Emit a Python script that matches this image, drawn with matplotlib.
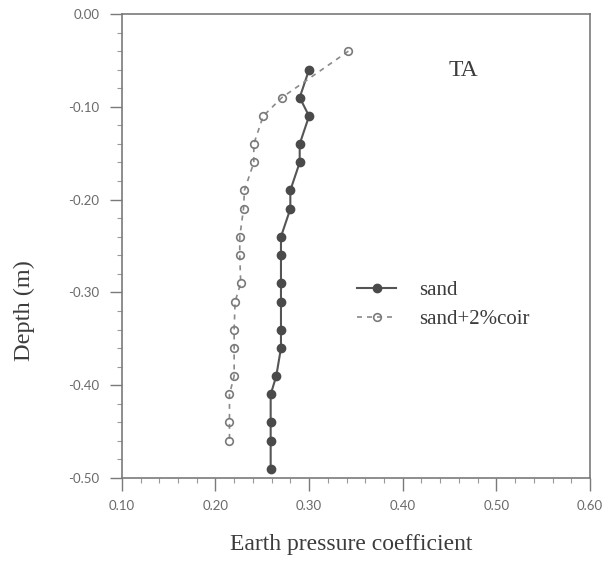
import matplotlib
matplotlib.use("Agg")
import matplotlib.pyplot as plt
from matplotlib.ticker import MultipleLocator, FormatStrFormatter

# data
sand_k = [0.300, 0.290, 0.300, 0.290, 0.290, 0.280, 0.280, 0.270, 0.270,
          0.270, 0.270, 0.270, 0.270, 0.265, 0.259, 0.259, 0.259, 0.259]
sand_depth = [-0.06, -0.09, -0.11, -0.14, -0.16, -0.19, -0.21, -0.24, -0.26,
              -0.29, -0.31, -0.34, -0.36, -0.39, -0.41, -0.44, -0.46, -0.49]

coir_k = [0.342, 0.271, 0.251, 0.241, 0.241, 0.231, 0.230, 0.226, 0.226,
          0.227, 0.221, 0.220, 0.220, 0.220, 0.215, 0.215, 0.215]
coir_depth = [-0.04, -0.09, -0.11, -0.14, -0.16, -0.19, -0.21, -0.24, -0.26,
              -0.29, -0.31, -0.34, -0.36, -0.39, -0.41, -0.44, -0.46]

plt.rcParams['axes.unicode_minus'] = False
serif = 'Liberation Serif'
tick_col = '#6a6a6a'
spine_col = '#7a7a7a'
text_col = '#3c3c3c'

fig = plt.figure(figsize=(6.12, 5.61), dpi=100)
ax = fig.add_axes([0.199, 0.148, 0.765, 0.827])

ax.plot(sand_k, sand_depth, '-', color='#555555', lw=1.5,
        marker='o', ms=6, mfc='#4a4a4a', mec='#4a4a4a', label='sand')
ax.plot(coir_k, coir_depth, '--', color='#8a8a8a', lw=1.2, dashes=(3, 3),
        marker='o', ms=5.5, mfc='none', mec='#7a7a7a', mew=1.2,
        label='sand+2%coir')

ax.set_xlim(0.10, 0.60)
ax.set_ylim(-0.50, 0.00)
ax.xaxis.set_major_locator(MultipleLocator(0.1))
ax.xaxis.set_minor_locator(MultipleLocator(0.02))
ax.yaxis.set_major_locator(MultipleLocator(0.1))
ax.yaxis.set_minor_locator(MultipleLocator(0.02))
ax.xaxis.set_major_formatter(FormatStrFormatter('%.2f'))
ax.yaxis.set_major_formatter(FormatStrFormatter('%.2f'))

ax.tick_params(which='major', direction='out', length=9, width=1.0,
               color=spine_col, labelcolor=tick_col, labelsize=9.5, pad=7)
ax.tick_params(which='minor', direction='out', length=3.5, width=0.8,
               color='#999999')
for lab in ax.get_xticklabels() + ax.get_yticklabels():
    lab.set_family('Lato')

for side in ['top', 'right', 'left', 'bottom']:
    ax.spines[side].set_color(spine_col)
    ax.spines[side].set_linewidth(1.2)

ax.set_xlabel('Earth pressure coefficient', family=serif, fontsize=17,
              color=text_col)
ax.set_ylabel('Depth (m)', family=serif, fontsize=17.5, color=text_col)
ax.xaxis.label.set_va('center')
ax.xaxis.set_label_coords(0.49, -0.144)
ax.yaxis.label.set_va('center')
ax.yaxis.set_label_coords(-0.207, 0.36)

ax.text(0.729, 0.879, 'TA', transform=ax.transAxes, ha='center', va='center',
        family=serif, fontsize=17, color=text_col)

leg = ax.legend(loc='upper left', bbox_to_anchor=(0.502, 0.425), frameon=False,
                prop={'family': serif, 'size': 15}, handlelength=1.9,
                handletextpad=1.1, labelspacing=0.45, borderpad=0,
                borderaxespad=0)
for t in leg.get_texts():
    t.set_color(text_col)

fig.savefig('out.png', dpi=100)
